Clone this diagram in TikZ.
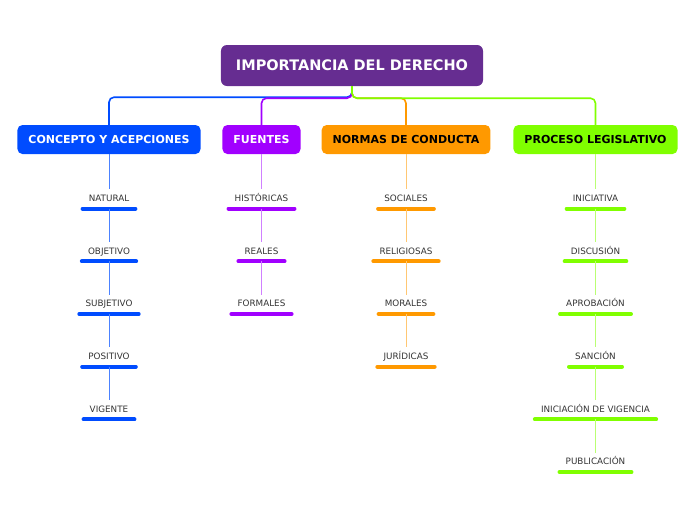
\documentclass[tikz,border=0pt]{standalone}
\usepackage{fontspec}
\setmainfont{DejaVu Sans}
\usepackage{xcolor}
\definecolor{rootPurple}{HTML}{662D91}
\definecolor{branchBlue}{HTML}{004CFF}
\definecolor{branchViolet}{HTML}{A100FF}
\definecolor{branchOrange}{HTML}{FF9900}
\definecolor{branchGreen}{HTML}{80FF00}
\definecolor{leafText}{HTML}{333333}
\usepackage{tikz}
\usetikzlibrary{
    positioning
}
\tikzset{
    % Central topic - dark purple rounded box
    root/.style={
        rectangle,
        rounded corners=6pt,
        fill=rootPurple,
        text=white,
        font=\fontsize{14.5}{16}\selectfont\bfseries,
        inner xsep=15pt,
        minimum height=41pt,
    },
    % Main topics - coloured rounded boxes
    branch/.style={
        rectangle,
        rounded corners=5pt,
        fill=#1,
        font=\fontsize{11}{13}\selectfont\bfseries,
        inner xsep=11pt,
        minimum height=29pt,
    },
    % Sub topics - plain text with a thick underline
    leaf/.style={
        font=\fontsize{8.8}{10}\selectfont,
        text=leafText,
        inner xsep=6pt,
        inner ysep=4.5pt,
        text height=7.5pt,
        text depth=2.5pt,
        append after command={
            (\tikzlastnode.south west) edge[draw=#1, line width=4pt, line cap=round] (\tikzlastnode.south east)
        },
    },
    % Connector from the root to a main topic
    trunk/.style={
        draw=#1,
        line width=1.6pt,
        rounded corners=5pt,
    },
    % Thin connector between sub topics
    twig/.style={
        draw=#1,
        line width=0.8pt,
    },
}

\begin{document}
\begin{tikzpicture}[x=1pt, y=-1pt]
    \useasboundingbox (0,0) rectangle (696,520);

    \node (importancia) [root] at (352,65.5) {IMPORTANCIA DEL DERECHO};
    \node (concepto) [branch=branchBlue, text=white] at (109,139.5) {CONCEPTO Y ACEPCIONES};
    \node (fuentes) [branch=branchViolet, text=white] at (261.5,139.5) {FUENTES};
    \node (normas) [branch=branchOrange, text=black] at (406,139.5) {NORMAS DE CONDUCTA};
    \node (proceso) [branch=branchGreen, text=black] at (595.5,139.5) {PROCESO LEGISLATIVO};

    \draw [trunk=branchBlue] (importancia.south) -- ++(0,11) -| (concepto.north);
    \draw [trunk=branchViolet] (importancia.south) -- ++(0,12) -| (fuentes.north);
    \draw [trunk=branchOrange] (importancia.south) -- ++(0,12) -| (normas.north);
    \draw [trunk=branchGreen] (importancia.south) -- ++(0,12) -| (proceso.north);

    % CONCEPTO Y ACEPCIONES
    \node (natural) [leaf=branchBlue, below=35pt of concepto] {NATURAL};
    \node (objetivo) [leaf=branchBlue, below=33.3pt of natural] {OBJETIVO};
    \node (subjetivo) [leaf=branchBlue, below=33.3pt of objetivo] {SUBJETIVO};
    \node (positivo) [leaf=branchBlue, below=33.3pt of subjetivo] {POSITIVO};
    \node (vigente) [leaf=branchBlue, below=33.3pt of positivo] {VIGENTE};

    % FUENTES
    \node (historicas) [leaf=branchViolet, below=35pt of fuentes] {HISTÓRICAS};
    \node (reales) [leaf=branchViolet, below=33.3pt of historicas] {REALES};
    \node (formales) [leaf=branchViolet, below=33.3pt of reales] {FORMALES};

    % NORMAS DE CONDUCTA
    \node (sociales) [leaf=branchOrange, below=35pt of normas] {SOCIALES};
    \node (religiosas) [leaf=branchOrange, below=33.3pt of sociales] {RELIGIOSAS};
    \node (morales) [leaf=branchOrange, below=33.3pt of religiosas] {MORALES};
    \node (juridicas) [leaf=branchOrange, below=33.3pt of morales] {JURÍDICAS};

    % PROCESO LEGISLATIVO
    \node (iniciativa) [leaf=branchGreen, below=35pt of proceso] {INICIATIVA};
    \node (discusion) [leaf=branchGreen, below=33.3pt of iniciativa] {DISCUSIÓN};
    \node (aprobacion) [leaf=branchGreen, below=33.3pt of discusion] {APROBACIÓN};
    \node (sancion) [leaf=branchGreen, below=33.3pt of aprobacion] {SANCIÓN};
    \node (vigencia) [leaf=branchGreen, below=33.3pt of sancion] {INICIACIÓN DE VIGENCIA};
    \node (publicacion) [leaf=branchGreen, below=33.3pt of vigencia] {PUBLICACIÓN};

    \draw [twig=branchBlue!70] (concepto) -- (natural);
    \draw [twig=branchBlue!70] (natural) -- (objetivo);
    \draw [twig=branchBlue!70] (objetivo) -- (subjetivo);
    \draw [twig=branchBlue!70] (subjetivo) -- (positivo);
    \draw [twig=branchBlue!70] (positivo) -- (vigente);

    \draw [twig=branchViolet!50] (fuentes) -- (historicas);
    \draw [twig=branchViolet!50] (historicas) -- (reales);
    \draw [twig=branchViolet!50] (reales) -- (formales);

    \draw [twig=branchOrange!55] (normas) -- (sociales);
    \draw [twig=branchOrange!55] (sociales) -- (religiosas);
    \draw [twig=branchOrange!55] (religiosas) -- (morales);
    \draw [twig=branchOrange!55] (morales) -- (juridicas);

    \draw [twig=branchGreen!55] (proceso) -- (iniciativa);
    \draw [twig=branchGreen!55] (iniciativa) -- (discusion);
    \draw [twig=branchGreen!55] (discusion) -- (aprobacion);
    \draw [twig=branchGreen!55] (aprobacion) -- (sancion);
    \draw [twig=branchGreen!55] (sancion) -- (vigencia);
    \draw [twig=branchGreen!55] (vigencia) -- (publicacion);
\end{tikzpicture}
\end{document}
